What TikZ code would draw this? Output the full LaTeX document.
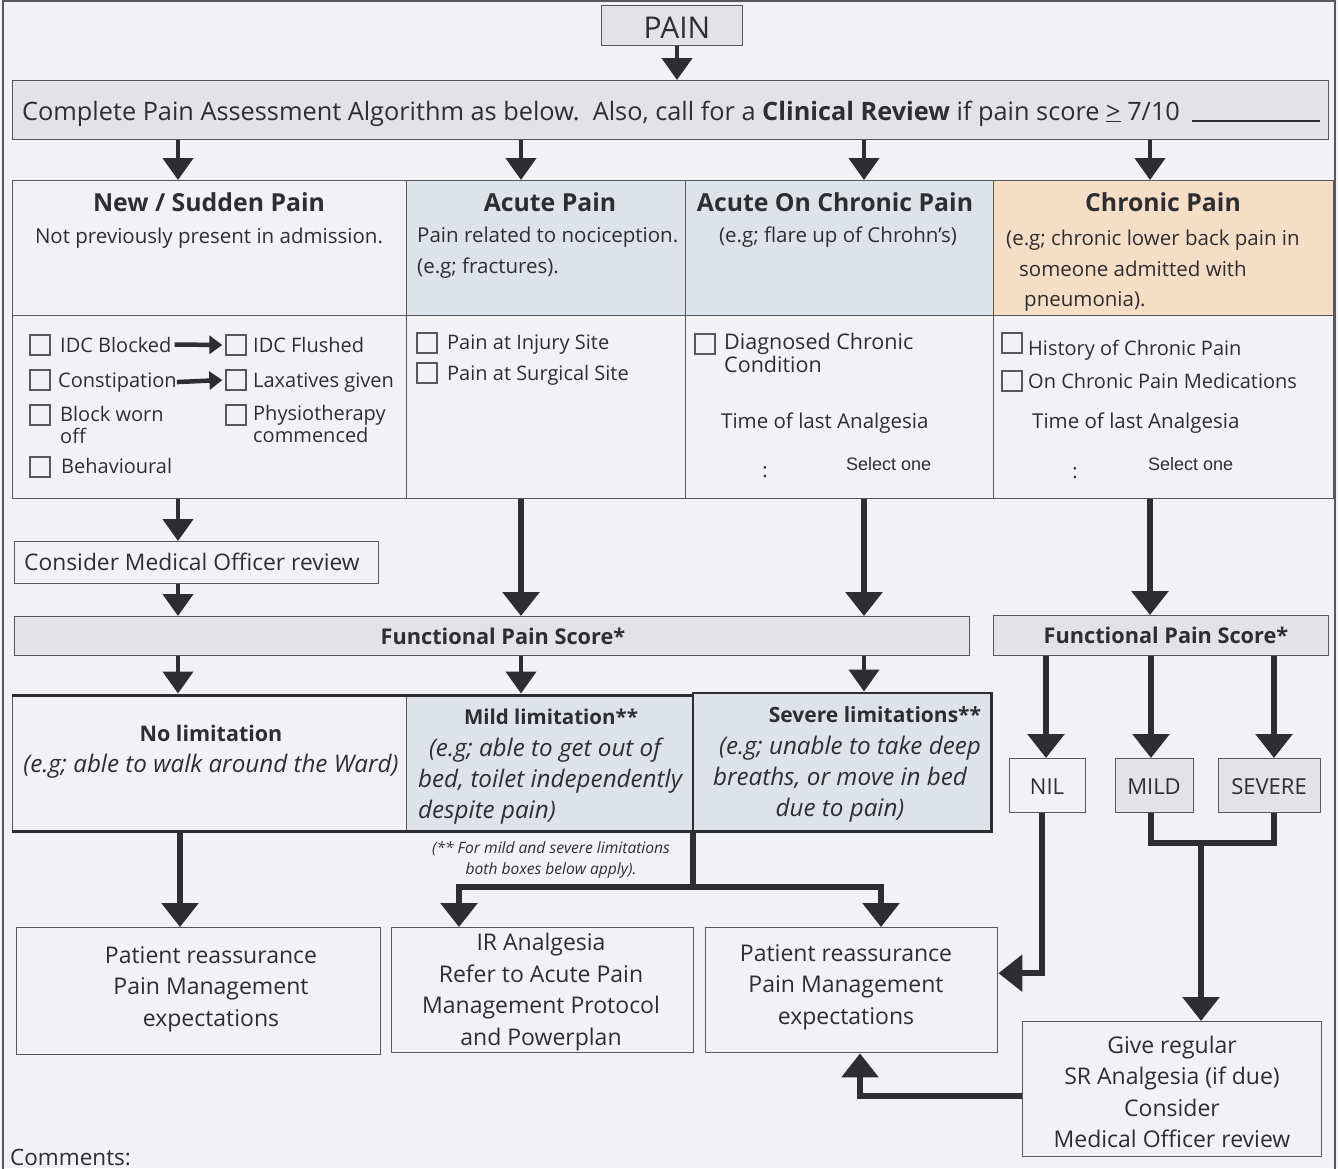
\documentclass[tikz,border=0pt]{standalone}
\usepackage{fontspec}
\setmainfont{Open Sans}
\newfontfamily\selfont{Liberation Sans}
\usetikzlibrary{arrows.meta}
\definecolor{ink}{HTML}{2E2E30}
\definecolor{paper}{HTML}{F2F2F4}
\definecolor{hdrgray}{HTML}{E3E3E5}
\definecolor{bluegray}{HTML}{DEE3E9}
\definecolor{peach}{HTML}{F5DDC6}
\definecolor{edge}{HTML}{58585A}
\tikzset{
  box/.style={draw=edge, line width=1.4pt, rectangle, inner sep=0pt, anchor=north west},
  bigarr/.style={draw=ink, line width=6pt, -{Triangle[width=36pt,length=24pt]}},
  midarr/.style={draw=ink, line width=4.5pt, -{Triangle[width=30pt,length=22pt]}},
  smallarr/.style={draw=ink, line width=4.5pt, -{Triangle[width=18pt,length=13pt]}},
  thickln/.style={draw=ink, line width=6pt},
  chk/.style={draw=edge, line width=1.3pt, minimum size=20pt, inner sep=0pt},
  txt/.style={inner sep=0pt, text=ink, font=\fontsize{20}{22}\selectfont},
  sub/.style={txt, font=\fontsize{20.5}{22}\selectfont},
  hdr/.style={txt, font=\bfseries\fontsize{24.8}{28}\selectfont},
  lim/.style={txt, font=\itshape\fontsize{24.2}{26}\selectfont},
  res/.style={txt, font=\fontsize{23}{31.5}\selectfont, align=center},
}
\begin{document}
\begin{tikzpicture}[x=1pt,y=-1pt, line join=miter]
\useasboundingbox (0,0) rectangle (1338,1168);
\fill[paper] (0,0) rectangle (1338,1168);
\draw[edge, line width=1.5pt] (3,1) rectangle (1335,1172);

% helper x-coordinates
\coordinate (xP) at (677,0);
\coordinate (xA) at (178,0);
\coordinate (xB) at (521,0);
\coordinate (xC) at (864,0);
\coordinate (xD) at (1150,0);
\coordinate (xNil) at (1046,0);
\coordinate (xNilb) at (1042,0);
\coordinate (xMild) at (1151,0);
\coordinate (xSev) at (1274,0);
\coordinate (xL1) at (180,0);
\coordinate (xL2) at (459,0);
\coordinate (xR2) at (881,0);
\coordinate (xGR) at (860,0);

% PAIN and assessment
\node[box, fill=hdrgray, minimum width=141pt, minimum height=40pt] (pain) at (601,5) {};
\node[txt, anchor=base, font=\fontsize{30}{32}\selectfont] (paintxt) at (677,38) {PAIN};
\node[box, fill=hdrgray, minimum width=1316pt, minimum height=59pt] (assess) at (12,80) {};
\node[txt, font=\fontsize{25.3}{28}\selectfont, anchor=base west] (assesstxt) at (22,120) {Complete Pain Assessment Algorithm as below.\ \ Also, call for a \textbf{Clinical Review} if pain score \underline{>} 7/10};
\draw[ink, line width=1.6pt] (1192,121) -- (1320,121);

% table top row
\node[box, fill=paper, minimum width=394pt, minimum height=135pt] (c1t) at (12,180) {};
\node[box, fill=bluegray, minimum width=279pt, minimum height=135pt] (c2t) at (406,180) {};
\node[box, fill=bluegray, minimum width=308pt, minimum height=135pt] (c3t) at (685,180) {};
\node[box, fill=peach, minimum width=340pt, minimum height=135pt] (c4t) at (993,180) {};
% table bottom row
\node[box, fill=paper, minimum width=394pt, minimum height=183pt] (c1b) at (12,315) {};
\node[box, fill=paper, minimum width=279pt, minimum height=183pt] (c2b) at (406,315) {};
\node[box, fill=paper, minimum width=308pt, minimum height=183pt] (c3b) at (685,315) {};
\node[box, fill=paper, minimum width=340pt, minimum height=183pt] (c4b) at (993,315) {};

% top row texts
\node[hdr, anchor=base] (h1) at (209,211) {New / Sudden Pain};
\node[sub, anchor=base] (s1) at (209,243) {Not previously present in admission.};
\node[hdr, anchor=base] (h2) at (550,211) {Acute Pain};
\node[sub, anchor=base west] (s2a) at (417,242) {Pain related to nociception.};
\node[sub, anchor=base west] (s2b) at (417,273) {(e.g; fractures).};
\node[hdr, anchor=base] (h3) at (835,211) {Acute On Chronic Pain};
\node[sub, anchor=base] (s3) at (838,242) {(e.g; flare up of Chrohn’s)};
\node[hdr, anchor=base] (h4) at (1163,211) {Chronic Pain};
\node[sub, anchor=base west] (s4a) at (1006,245) {(e.g; chronic lower back pain in};
\node[sub, anchor=base west] (s4b) at (1019,276) {someone admitted with};
\node[sub, anchor=base west] (s4c) at (1024,306) {pneumonia).};

% column 1 checklist
\node[chk] (k1) at (40,345) {};
\node[txt, anchor=base west] (t1) at (60,352) {IDC Blocked};
\node[chk] (k2) at (236,345) {};
\node[txt, anchor=base west] (t2) at (253,352) {IDC Flushed};
\node[chk] (k3) at (40,380) {};
\node[txt, anchor=base west] (t3) at (58,387) {Constipation};
\node[chk] (k4) at (236,380) {};
\node[txt, anchor=base west] (t4) at (253,387) {Laxatives given};
\node[chk] (k5) at (40,415) {};
\node[txt, anchor=base west, align=left] (t5) at (60,443) {Block worn\\off};
\node[chk] (k6) at (236,415) {};
\node[txt, anchor=base west, align=left] (t6) at (253,442) {Physiotherapy\\commenced};
\node[chk] (k7) at (40,467) {};
\node[txt, anchor=base west] (t7) at (61,473) {Behavioural};
\draw[smallarr] ([xshift=3pt]t1.east) -- ([xshift=-3pt]k2.west);
\draw[smallarr] ([xshift=0pt]t3.east) -- ([xshift=-3pt]k4.west);

% column 2 checklist
\node[chk] (k8) at (427,343) {};
\node[txt, anchor=base west] (t8) at (447,349) {Pain at Injury Site};
\node[chk] (k9) at (427,373) {};
\node[txt, anchor=base west] (t9) at (447,380) {Pain at Surgical Site};

% column 3
\node[chk] (k10) at (705,344) {};
\node[txt, anchor=base west, align=left, font=\fontsize{21.5}{21}\selectfont] (t10) at (724,372) {Diagnosed Chronic\\Condition};
\node[txt, anchor=base west, font=\fontsize{20.5}{22}\selectfont] (t11) at (721,428) {Time of last Analgesia};
\node[txt] (t12) at (765,472) {:};
\node[txt, anchor=base west, font=\selfont\fontsize{18}{20}\selectfont] (t13) at (846,470) {Select one};

% column 4
\node[chk] (k14) at (1012,343) {};
\node[txt, anchor=base west] (t14) at (1028,355) {History of Chronic Pain};
\node[chk] (k15) at (1012,381) {};
\node[txt, anchor=base west] (t15) at (1028,388) {On Chronic Pain Medications};
\node[txt, anchor=base west, font=\fontsize{20.5}{22}\selectfont] (t16) at (1032,428) {Time of last Analgesia};
\node[txt] (t17) at (1075,473) {:};
\node[txt, anchor=base west, font=\selfont\fontsize{18}{20}\selectfont] (t18) at (1148,470) {Select one};

% consider MO review
\node[box, minimum width=364pt, minimum height=42pt] (cmo) at (14,541) {};
\node[txt, anchor=base west, font=\fontsize{22.8}{24}\selectfont] (cmotxt) at (24,570) {Consider Medical Officer review};

% functional pain score boxes
\node[box, fill=hdrgray, minimum width=955pt, minimum height=39pt] (fps1) at (14,616) {};
\node[txt, anchor=base, font=\bfseries\fontsize{21.7}{24}\selectfont] (fps1txt) at (503,644) {Functional Pain Score*};
\node[box, fill=hdrgray, minimum width=335pt, minimum height=40pt] (fps2) at (993,615) {};
\node[txt, anchor=base, font=\bfseries\fontsize{21.7}{24}\selectfont] (fps2txt) at (1166,643) {Functional Pain Score*};

% limitation table
\node[box, fill=paper, minimum width=394pt, minimum height=135pt] (l1) at (12,695) {};
\node[box, fill=bluegray, minimum width=287pt, minimum height=135pt] (l2) at (406,695) {};
\node[box, fill=bluegray, minimum width=297pt, minimum height=137pt] (l3) at (693,693) {};
\draw[ink, line width=3pt] (l1.north west) -- (l2.north east);
\draw[ink, line width=3pt] (l1.south west) -- (l2.south east);
\draw[ink, line width=2.5pt] (l3.north west) rectangle (l3.south east);
\node[txt, anchor=base, font=\bfseries\fontsize{21.5}{26}\selectfont] (n1) at (211,741) {No limitation};
\node[lim, anchor=base] (n1b) at (211,772) {(e.g; able to walk around the Ward)};
\node[txt, anchor=base, font=\bfseries\fontsize{20.5}{26}\selectfont] (n2) at (551,724) {Mild limitation**};
\node[lim, anchor=base] (n2b) at (545,756) {(e.g; able to get out of};
\node[lim, anchor=base west] (n2c) at (418,787) {bed, toilet independently};
\node[lim, anchor=base west] (n2d) at (418,818) {despite pain)};
\node[txt, anchor=base, font=\bfseries\fontsize{21}{26}\selectfont] (n3) at (875,722) {Severe limitations**};
\node[lim, anchor=base] (n3b) at (850,754) {(e.g; unable to take deep};
\node[lim, anchor=base] (n3c) at (840,785) {breaths, or move in bed};
\node[lim, anchor=base] (n3d) at (840,816) {due to pain)};

% NIL / MILD / SEVERE
\node[box, fill=paper, minimum width=76pt, minimum height=54pt] (nil) at (1009,758) {};
\node[txt, anchor=base, font=\fontsize{22}{24}\selectfont] (niltxt) at (1047,794) {NIL};
\node[box, fill=hdrgray, minimum width=78pt, minimum height=54pt] (mild) at (1115,758) {};
\node[txt, anchor=base, font=\fontsize{22}{24}\selectfont] (mildtxt) at (1154,794) {MILD};
\node[box, fill=hdrgray, minimum width=102pt, minimum height=54pt] (sev) at (1218,758) {};
\node[txt, anchor=base, font=\fontsize{22}{24}\selectfont] (sevtxt) at (1269,794) {SEVERE};

% note
\node[txt, font=\itshape\fontsize{15.6}{21}\selectfont, align=center] (note) at (551,860) {(** For mild and severe limitations\\both boxes below apply).};

% result boxes
\node[box, minimum width=364pt, minimum height=127pt] (pr1) at (16,927) {};
\node[res] (pr1txt) at (211,989) {Patient reassurance\\Pain Management\\expectations};
\node[box, minimum width=302pt, minimum height=125pt] (ir) at (391,927) {};
\node[res] (irtxt) at (541,992) {IR Analgesia\\Refer to Acute Pain\\Management Protocol\\and Powerplan};
\node[box, minimum width=292pt, minimum height=125pt] (pr2) at (705,927) {};
\node[res] (pr2txt) at (846,987) {Patient reassurance\\Pain Management\\expectations};
\node[box, minimum width=299pt, minimum height=135pt] (gr) at (1022,1021) {};
\node[res] (grtxt) at (1172,1092) {Give regular\\SR Analgesia (if due)\\Consider\\Medical Officer review};

\node[txt, anchor=base west, font=\fontsize{22.5}{24}\selectfont] (comments) at (10,1165) {Comments:};

% connectors
\draw[midarr] (pain.south -| xP) -- (assess.north -| xP);
\draw[midarr] (assess.south -| xA) -- (c1t.north -| xA);
\draw[midarr] (assess.south -| xB) -- (c2t.north -| xB);
\draw[midarr] (assess.south -| xC) -- (c3t.north -| xC);
\draw[midarr] (assess.south -| xD) -- (c4t.north -| xD);
\draw[midarr] (c1b.south -| xA) -- (cmo.north -| xA);
\draw[midarr] (cmo.south -| xA) -- (fps1.north -| xA);
\draw[bigarr] (c2b.south -| xB) -- (fps1.north -| xB);
\draw[bigarr] (c3b.south -| xC) -- (fps1.north -| xC);
\draw[bigarr] (c4b.south -| xD) -- (fps2.north -| xD);
\draw[midarr] (fps1.south -| xA) -- ([yshift=1.5pt]l1.north -| xA);
\draw[midarr] (fps1.south -| xB) -- ([yshift=1.5pt]l2.north -| xB);
\draw[midarr] (fps1.south -| xC) -- ([yshift=1.5pt]l3.north -| xC);
\draw[bigarr] (fps2.south -| xNil) -- (nil.north -| xNil);
\draw[bigarr] (fps2.south -| xMild) -- (mild.north -| xMild);
\draw[bigarr] (fps2.south -| xSev) -- (sev.north -| xSev);
\draw[bigarr] (l1.south -| xL1) -- (pr1.north -| xL1);
\coordinate (split) at (693,887);
\draw[thickln] (l3.south west) -- (split);
\draw[bigarr] (split) -| (ir.north -| xL2);
\draw[bigarr] (split) -| (pr2.north -| xR2);
\draw[bigarr] (nil.south -| xNilb) |- ([yshift=17pt]pr2.east);
\coordinate (join) at (1201,843);
\draw[thickln] (mild.south -| xMild) |- (join) -| (sev.south -| xSev);
\draw[bigarr] (join) -- (gr.north -| join);
\draw[bigarr] ([yshift=-7pt]gr.west) -| (pr2.south -| xGR);
\end{tikzpicture}
\end{document}
